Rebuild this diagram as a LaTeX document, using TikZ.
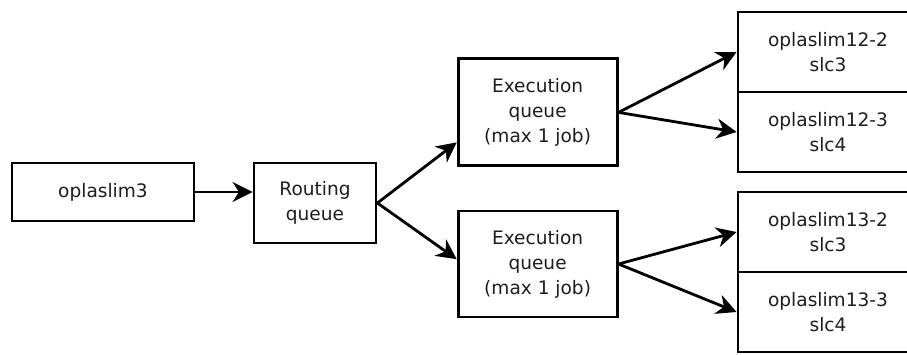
\documentclass[tikz,border=0pt]{standalone}
\usepackage{fontspec}
\setmainfont{DejaVu Sans}
\usetikzlibrary{calc,arrows.meta,positioning}
\definecolor{inkx}{HTML}{1E1E1E}
\tikzset{
  ar/.style={-{Stealth[length=5mm,width=5mm,inset=1.6mm]},line width=2pt},
  box/.style={draw,line width=2pt,align=center,inner sep=2pt,text=inkx,font=\fontsize{13.2}{17.8}\selectfont},
  host/.style={box,minimum width=4.5cm,minimum height=2cm}
}

\begin{document}
\begin{tikzpicture}
\useasboundingbox (0,0) rectangle (22.675,8.85);
\clip (0,0) rectangle (22.675,8.85);
\node[box,minimum width=4.55cm,minimum height=1.45cm] (src) at (2.575,4.05) {oplaslim3};
\node[box,minimum width=3.05cm,minimum height=2cm] (route) at (7.875,3.775) {Routing\\queue};
\node[box,minimum width=3.975cm,minimum height=2.675cm] (eq1) at (13.44,6.04) {Execution\\queue\\(max 1 job)};
\node[box,minimum width=3.975cm,minimum height=2.65cm] (eq2) at (13.44,2.25) {Execution\\queue\\(max 1 job)};
\node[host] (h1) at (20.7,7.55) {oplaslim12-2\\slc3};
\node[host] (h2) at (20.7,5.55) {oplaslim12-3\\slc4};
\node[host] (h3) at (20.7,3.05) {oplaslim13-2\\slc3};
\node[host] (h4) at (20.7,1.05) {oplaslim13-3\\slc4};
\draw[ar] (src.east) -- (src.east -| route.west);
\draw[ar] (route.east) -- ([yshift=-0.75cm]eq1.west);
\draw[ar] (route.east) -- ([yshift=0.12cm]eq2.west);
\draw[ar] (eq1.east) -- (h1.west);
\draw[ar] (eq1.east) -- (h2.west);
\draw[ar] (eq2.east) -- (h3.west);
\draw[ar] (eq2.east) -- (h4.west);
\end{tikzpicture}
\end{document}
